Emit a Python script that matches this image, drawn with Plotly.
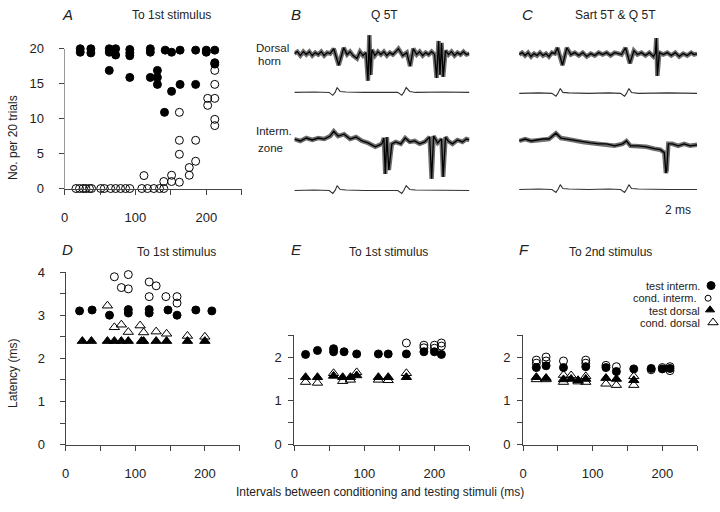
import plotly.graph_objects as go

FONT = "Liberation Sans, Arial, sans-serif"
INK = "#222"

# ---------------- Panel A: number of responses per 20 trials ----------------
A_test_x = [22, 22, 37, 37, 63, 63, 63, 72, 72, 92, 92, 92, 92, 121, 121, 121, 131, 131, 131,
            141, 142, 151, 151, 163, 163, 185, 185, 200, 200, 212, 212, 212]
A_test_y = [20, 19.5, 20, 19.4, 20, 19.5, 16.9, 20, 19.1, 19.9, 19.4, 19.0, 15.9, 20, 19.5, 15.9, 16.9, 15.9, 14.9,
            10.9, 19.8, 19.5, 13.9, 19.8, 14.9, 19.8, 14.9, 19.5, 19.8, 19.8, 18.0, 17.8]
A_cond_x = [16, 21, 26, 30, 35, 38, 51, 56, 65, 72, 79, 86, 92, 109, 117, 126, 134, 140,
            112, 140, 151, 151, 162, 162, 162, 162, 176, 176, 185, 185, 202, 202, 212, 212, 212, 212, 212]
A_cond_y = [0, 0, 0, 0, 0, 0, 0, 0, 0, 0, 0, 0, 0, 0, 0, 0, 0, 0,
            1.85, 1.0, 1.9, 1.0, 10.9, 6.9, 4.9, 0.9, 3.0, 1.9, 6.9, 3.9, 12.9, 11.9, 16.9, 14.9, 12.9, 9.9, 9.0]

# ---------------- Panel D: latency to 1st stimulus ----------------
D_ti_x = [20, 38, 63, 90, 90, 120, 120, 147, 160, 187, 210]
D_ti_y = [3.10, 3.12, 3.00, 3.13, 3.05, 3.13, 3.05, 3.12, 3.00, 3.12, 3.10]
D_ci_x = [60, 70, 90, 80, 90, 120, 130, 120, 144, 160, 160]
D_ci_y = [4.17, 3.89, 3.94, 3.64, 3.61, 3.77, 3.68, 3.43, 3.43, 3.43, 3.28]
D_td_x = [24, 37, 60, 70, 80, 90, 109, 112, 130, 145, 175, 200]
D_td_y = [2.4, 2.4, 2.4, 2.4, 2.4, 2.4, 2.4, 2.4, 2.4, 2.4, 2.4, 2.4]
D_cd_x = [60, 70, 80, 90, 107, 112, 130, 145, 175, 200]
D_cd_y = [3.22, 2.72, 2.78, 2.61, 2.76, 2.60, 2.62, 2.57, 2.52, 2.50]

# ---------------- Panel E: latency to 1st stimulus ----------------
E_ti_x = [16, 33, 56, 56, 71, 89, 120, 134, 160, 185, 200, 210]
E_ti_y = [2.06, 2.15, 2.19, 2.12, 2.12, 2.07, 2.07, 2.07, 2.07, 2.12, 2.12, 2.06]
E_ci_x = [134, 160, 160, 185, 185, 200, 200, 210, 210]
E_ci_y = [2.58, 2.62, 2.32, 2.27, 2.21, 2.27, 2.20, 2.32, 2.25]
E_td_x = [16, 33, 56, 69, 80, 89, 120, 134, 160]
E_td_y = [1.54, 1.54, 1.57, 1.54, 1.54, 1.58, 1.54, 1.54, 1.54]
E_cd_x = [16, 33, 56, 69, 80, 89, 120, 134, 160]
E_cd_y = [1.43, 1.41, 1.63, 1.45, 1.48, 1.65, 1.48, 1.47, 1.63]

# ---------------- Panel F: latency to 2nd stimulus ----------------
F_ti_x = [19, 33, 58, 90, 119, 134, 159, 184, 200, 211]
F_ti_y = [1.76, 1.80, 1.76, 1.78, 1.76, 1.67, 1.73, 1.74, 1.73, 1.74]
F_ci_x = [19, 19, 33, 33, 58, 90, 90, 119, 134, 184, 200, 211, 211]
F_ci_y = [1.93, 1.86, 2.00, 1.91, 1.91, 1.93, 1.86, 1.81, 1.78, 1.71, 1.76, 1.78, 1.69]
F_td_x = [19, 33, 58, 69, 79, 90, 119, 134, 159]
F_td_y = [1.54, 1.52, 1.49, 1.50, 1.47, 1.50, 1.52, 1.50, 1.47]
F_cd_x = [19, 33, 58, 58, 69, 79, 90, 90, 119, 134, 159, 159]
F_cd_y = [1.49, 1.49, 1.59, 1.43, 1.58, 1.44, 1.56, 1.43, 1.39, 1.36, 1.56, 1.36]

# ---------------- Panels B and C: recordings (ms, deflection in arbitrary units) ----------------
B_dorsal_t = [0.0, 0.15, 0.3, 0.45, 0.6, 0.75, 0.9, 1.05, 1.2, 1.35, 1.5, 1.65, 1.8, 1.98, 2.23, 2.48,
              2.65, 2.8, 2.95, 3.15, 3.3, 3.45, 3.6, 3.7, 3.77, 3.83, 3.9, 4.05, 4.2, 4.35, 4.5, 4.65,
              4.8, 4.95, 5.1, 5.23, 5.45, 5.65, 5.82, 5.98, 6.15, 6.3, 6.45, 6.6, 6.75, 6.9, 7.05, 7.15,
              7.25, 7.32, 7.4, 7.48, 7.6, 7.75, 7.9, 8.05, 8.2, 8.35, 8.5, 8.65, 8.8]
B_dorsal_v = [0, 2, -2, 2, -1, 2, -2, 1, -1, 2, -2, 1, 0, 5, -12, 6,
              -1, 2, -2, -5, 2, -2, 1, -28, 19, -22, 4, -2, 2, -1, 2, -2,
              1, -1, 2, 5, -2, 1, -13, 5, -1, 2, -2, 1, -1, 2, -1, -25,
              13, -22, 11, -24, 3, -1, 2, -2, 1, -1, 2, -1, 0]
B_interm_t = [0, 0.3, 0.6, 0.9, 1.2, 1.5, 1.8, 1.98, 2.2, 2.5, 2.8, 3.1, 3.4, 3.7, 4.07, 4.4, 4.5,
              4.57, 4.65, 4.75, 4.9, 5.1, 5.35, 5.57, 5.8, 6.05, 6.3, 6.55, 6.8, 6.9, 7.0, 7.2, 7.4,
              7.48, 7.6, 7.73, 7.95, 8.2, 8.45, 8.65, 8.8]
B_interm_v = [4, 2, 5, 3, 5, 4, 7, 12, 7, 9, 4, 6, 2, 0, -4, -1, 5,
              -32, 6, -28, -1, 1, -1, 5, 1, 2, -1, 1, 6, -37, 7, 0, 4,
              -35, 6, 2, -1, 3, 1, 4, 3]
B_stim_t = [0, 1.0, 1.75, 1.93, 2.05, 2.15, 2.3, 2.6, 3.5, 4.6, 5.2, 5.4, 5.5, 5.62, 5.8, 6.1, 7.5, 8.8]
B_stim1_v = [0, 0.5, 0, -3, 0, 5, 1, 0.5, 0, 0.5, 0, -3, 0, 5, 1, 0, 0.5, 0]
B_stim2_v = [0, 0.5, 0, -3, 0, 5, 1, 0.5, 0, 0.5, 0, -3, 0, 5, 1, 0.5, 0, 0]

C_dorsal_t = [0, 0.15, 0.3, 0.45, 0.6, 0.75, 0.9, 1.05, 1.2, 1.35, 1.5, 1.65, 1.8, 1.93, 2.18, 2.4,
              2.6, 2.8, 3.0, 3.2, 3.4, 3.6, 3.8, 4.0, 4.2, 4.4, 4.6, 4.8, 5.0, 5.15, 5.35, 5.57,
              5.77, 5.95, 6.15, 6.35, 6.55, 6.75, 6.85, 6.9, 6.95, 7.05, 7.25, 7.45, 7.65, 7.85, 8.05,
              8.25, 8.45, 8.65, 8.8, 8.95]
C_dorsal_v = [0, 2, -1, 2, -2, 1, -1, 2, -1, 1, -2, 2, 1, 7, -11, 7,
              0, 2, -1, 2, -2, 1, -1, 2, 0, 2, -1, 2, 1, 0, 7, -9,
              4, 0, 2, -1, 2, -2, 1, 17, -22, 2, 0, 2, -1, 2, -2,
              1, -1, 2, 0, 1]
C_interm_t = [0, 0.3, 0.6, 0.9, 1.2, 1.5, 1.85, 2.1, 2.4, 2.8, 3.2, 3.6, 4.0, 4.4, 4.8, 5.2, 5.4, 5.6,
              6.0, 6.4, 6.8, 7.1, 7.3, 7.38, 7.42, 7.5, 7.7, 8.0, 8.3, 8.6, 8.95]
C_interm_v = [2, 4, 2, 3, 4, 4, 10, 5, 4, 2, 1, 0, -1, -1, -3, -1, 2, -3,
              -3, -4, -6, -7, -10, -31, -28, -1, -1, -3, -1, -3, -2]
C_stim_t = [0, 1.0, 1.65, 1.85, 1.95, 2.07, 2.2, 2.5, 3.5, 4.5, 5.1, 5.3, 5.4, 5.52, 5.65, 6.0, 7.5, 8.95]
C_stim1_v = [0, 0.5, 0, -3, 0, 5, 1, 0.5, 0, 0.5, 0, -3, 0, 5, 1, 0, 0.5, 0]
C_stim2_v = [0, 0.5, 0, -3, 0, 5, 1, 0.5, 0, 0.5, 0, -3, 0, 5, 1, 0.5, 0, 0]
SCALE_BAR_MS = 2

LEGEND_LABELS = ["test interm.", "cond. interm.", "test dorsal", "cond. dorsal"]
LEGEND_SYMBOLS = ["circle", "circle-open", "triangle-up", "triangle-up-open"]

for a, b in [(A_test_x, A_test_y), (A_cond_x, A_cond_y), (D_ti_x, D_ti_y), (D_ci_x, D_ci_y),
             (D_td_x, D_td_y), (D_cd_x, D_cd_y), (E_ti_x, E_ti_y), (E_ci_x, E_ci_y), (E_td_x, E_td_y),
             (E_cd_x, E_cd_y), (F_ti_x, F_ti_y), (F_ci_x, F_ci_y), (F_td_x, F_td_y), (F_cd_x, F_cd_y),
             (B_dorsal_t, B_dorsal_v), (B_interm_t, B_interm_v), (B_stim_t, B_stim1_v), (B_stim_t, B_stim2_v),
             (C_dorsal_t, C_dorsal_v), (C_interm_t, C_interm_v), (C_stim_t, C_stim1_v), (C_stim_t, C_stim2_v)]:
    assert len(a) == len(b), (len(a), len(b))

# ---------------- layout helpers ----------------
W, H = 720, 512
def px(x): return x / W
def py(y): return 1 - y / H

fig = go.Figure()

def pts(x, y, ax, symbol, size):
    fig.add_trace(go.Scatter(
        x=x, y=y, mode="markers", xaxis="x" + ax, yaxis="y" + ax, cliponaxis=False,
        showlegend=False, hoverinfo="skip",
        marker=dict(symbol=symbol, size=size, color="black", line=dict(color="black", width=1))))

pts(A_cond_x, A_cond_y, "", "circle-open", 8)
pts(A_test_x, A_test_y, "", "circle", 8)
for ax, sets in [("2", (D_ti_x, D_ti_y, D_ci_x, D_ci_y, D_td_x, D_td_y, D_cd_x, D_cd_y)),
                 ("3", (E_ti_x, E_ti_y, E_ci_x, E_ci_y, E_td_x, E_td_y, E_cd_x, E_cd_y)),
                 ("4", (F_ti_x, F_ti_y, F_ci_x, F_ci_y, F_td_x, F_td_y, F_cd_x, F_cd_y))]:
    tix, tiy, cix, ciy, tdx, tdy, cdx, cdy = sets
    pts(cix, ciy, ax, "circle-open", 8)
    pts(cdx, cdy, ax, "triangle-up-open", 9)
    pts(tix, tiy, ax, "circle", 8)
    pts(tdx, tdy, ax, "triangle-up", 9)

# recordings: row baselines are layout offsets
def rec(t, v, ax, base, noisy):
    y = [-base + d for d in v]
    if noisy:
        fig.add_trace(go.Scatter(x=t, y=y, mode="lines", xaxis="x" + ax, yaxis="y" + ax,
                                 line=dict(color="#555", width=4.5), opacity=0.85,
                                 showlegend=False, hoverinfo="skip", cliponaxis=False))
        fig.add_trace(go.Scatter(x=t, y=y, mode="lines", xaxis="x" + ax, yaxis="y" + ax,
                                 line=dict(color="#000", width=1.3),
                                 showlegend=False, hoverinfo="skip", cliponaxis=False))
    else:
        fig.add_trace(go.Scatter(x=t, y=y, mode="lines", xaxis="x" + ax, yaxis="y" + ax,
                                 line=dict(color="#333", width=1.1),
                                 showlegend=False, hoverinfo="skip", cliponaxis=False))

rec(B_dorsal_t, B_dorsal_v, "5", 48, True)
rec(B_stim_t, B_stim1_v, "5", 88, False)
rec(B_interm_t, B_interm_v, "5", 140, True)
rec(B_stim_t, B_stim2_v, "5", 189, False)
rec(C_dorsal_t, C_dorsal_v, "6", 49, True)
rec(C_stim_t, C_stim1_v, "6", 89, False)
rec(C_interm_t, C_interm_v, "6", 140, True)
rec(C_stim_t, C_stim2_v, "6", 188, False)

# scale bar in panel C (2 ms)
fig.add_shape(type="line", xref="x6", yref="y6", x0=4.93, x1=4.93 + SCALE_BAR_MS, y0=-209, y1=-209,
              line=dict(color="#555", width=1))

# legend keys (right of the legend labels), on an overlay axis in pixel units
leg_x = [711, 708, 710, 713]
leg_y = [287, 300, 312, 325]
leg_size = [8, 6, 8, 9]
for i in range(4):
    fig.add_trace(go.Scatter(x=[leg_x[i]], y=[leg_y[i]], mode="markers", xaxis="x7", yaxis="y7",
                             cliponaxis=False, showlegend=False, hoverinfo="skip",
                             marker=dict(symbol=LEGEND_SYMBOLS[i], size=leg_size[i], color="black",
                                         line=dict(color="black", width=1))))

tickfont = dict(size=13, family=FONT, color=INK)
def axis(dom, rng, tv, tt, anchor, standoff, **kw):
    d = dict(domain=dom, range=rng, tickvals=tv, ticktext=tt, anchor=anchor, showline=True,
             linecolor="#444", linewidth=1, ticks="outside", ticklen=5, tickwidth=1, tickcolor="#444",
             showgrid=False, zeroline=False, tickfont=tickfont, ticklabelstandoff=standoff, fixedrange=True)
    d.update(kw)
    return d

xt = [0, 50, 100, 150, 200, 250]
xtt = ["0", "", "100", "", "200", ""]
lat4 = [0, 0.5, 1, 1.5, 2, 2.5, 3, 3.5, 4]
lat4t = ["0", "", "1", "", "2", "", "3", "", "4"]
lat2 = [0, 0.5, 1, 1.5, 2, 2.5]
lat2t = ["0", "", "1", "", "2", ""]

hidden = dict(visible=False, fixedrange=True)
fig.update_layout(
    width=W, height=H, margin=dict(l=0, r=0, t=0, b=0),
    paper_bgcolor="white", plot_bgcolor="rgba(0,0,0,0)",
    font=dict(family=FONT, size=12, color=INK),
    xaxis=axis([px(61), px(239)], [0, 250], xt, xtt, "y", 12),
    yaxis=axis([py(187), py(43)], [0, 20], [0, 5, 10, 15, 20], ["0", "5", "10", "15", "20"], "x", 12,
               linecolor="#999"),
    xaxis2=axis([px(62), px(237)], [0, 250], xt, xtt, "y2", 12),
    yaxis2=axis([py(451), py(273)], [0, 4], lat4, lat4t, "x2", 12),
    xaxis3=axis([px(292), px(468)], [0, 250], xt, xtt, "y3", 12),
    yaxis3=axis([py(451), py(338)], [0, 2.5], lat2, lat2t, "x3", 4),
    xaxis4=axis([px(522), px(697)], [0, 250], xt, xtt, "y4", 12),
    yaxis4=axis([py(451), py(338)], [0, 2.5], lat2, lat2t, "x4", 4),
    xaxis5=dict(domain=[px(292), px(468)], range=[0, 8.8], anchor="y5", **hidden),
    yaxis5=dict(domain=[py(205), py(15)], range=[-205, -15], anchor="x5", **hidden),
    xaxis6=dict(domain=[px(518), px(697)], range=[0, 8.95], anchor="y6", **hidden),
    yaxis6=dict(domain=[py(205), py(15)], range=[-205, -15], anchor="x6", **hidden),
    xaxis7=dict(domain=[0, 1], range=[0, W], anchor="y7", **hidden),
    yaxis7=dict(domain=[0, 1], range=[H, 0], anchor="x7", **hidden),
)

anns = []
def txt(x, y, s, size=12, xa="center", ang=0, italic=False):
    f = dict(size=size, family=FONT, color=INK)
    if italic:
        f["style"] = "italic"
    anns.append(dict(x=px(x), y=py(y), xref="paper", yref="paper", text=s, showarrow=False,
                     xanchor=xa, yanchor="middle", textangle=ang, font=f, borderpad=0))

# panel letters and titles
txt(64, 8, "A", 15, italic=True)
txt(168, 8, "To 1st stimulus")
txt(294, 8, "B", 15, italic=True)
txt(383, 8, "Q 5T")
txt(526, 8, "C", 15, italic=True)
txt(615, 8, "Sart 5T &amp; Q 5T")
txt(64, 250, "D", 15, italic=True)
txt(173, 252, "To 1st stimulus")
txt(294, 250, "E", 15, italic=True)
txt(387, 252, "To 1st stimulus")
txt(523, 250, "F", 15, italic=True)
txt(610, 252, "To 2nd stimulus")
# trace labels
txt(252, 42, "Dorsal", 11.5, xa="left")
txt(254, 56, "horn", 11.5, xa="left")
txt(252, 128, "Interm.", 11.5, xa="left")
txt(254, 145, "zone", 11.5, xa="left")
txt(678, 209, "2 ms", 12)
# axis titles
txt(9, 134, "No. per 20 trials", 12, ang=-90)
txt(9, 377, "Latency (ms)", 12, ang=-90)
txt(378, 500, "Intervals between conditioning and testing stimuli (ms)", 12)
# legend labels for panels D-F
for lab, xr, yy in zip(LEGEND_LABELS, [701, 698, 701, 701], [287, 300, 313, 326]):
    txt(xr, yy, lab, 11, xa="right")
fig.update_layout(annotations=anns)

fig.write_html("out.html", config={"displayModeBar": False, "staticPlot": True},
               post_script="document.body.style.margin='0px';")
